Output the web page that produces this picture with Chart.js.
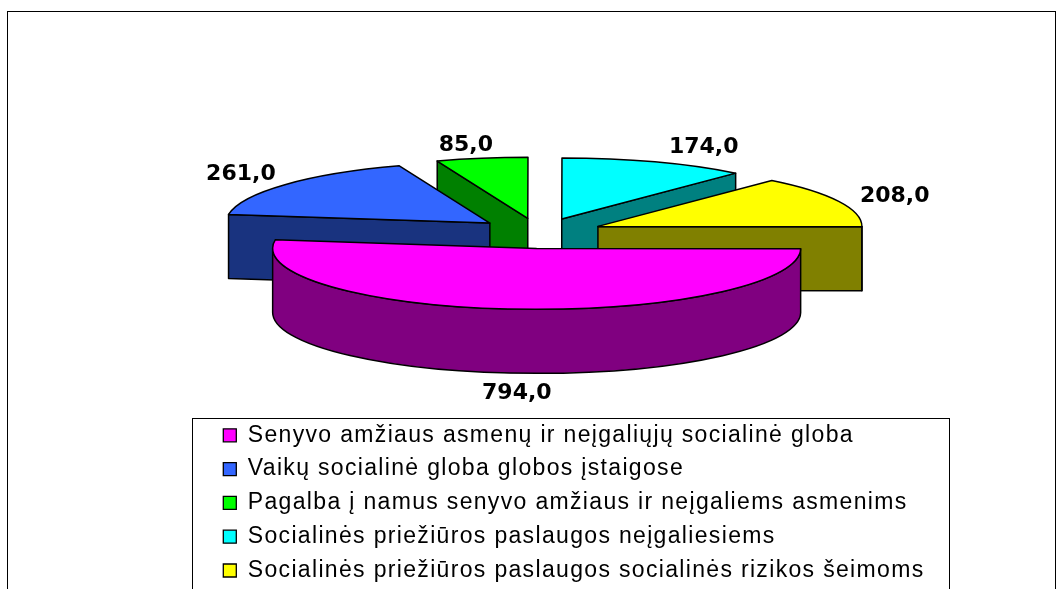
<!DOCTYPE html>
<html>
<head>
<meta charset="utf-8">
<style>html,body{margin:0;padding:0;background:#fff;overflow:hidden}canvas{display:block}</style>
<script src="https://cdn.jsdelivr.net/npm/chart.js@4"></script>
</head>
<body>
<canvas id="c" width="1062" height="589"></canvas>
<script>
const categories = [
  'Senyvo amžiaus asmenų ir neįgaliųjų socialinė globa',
  'Vaikų socialinė globa globos įstaigose',
  'Pagalba į namus senyvo amžiaus ir neįgaliems asmenims',
  'Socialinės priežiūros paslaugos neįgaliesiems',
  'Socialinės priežiūros paslaugos socialinės rizikos šeimoms'
];
const values = [794, 261, 85, 174, 208];
const topColors = ['#FF00FF', '#3366FF', '#00FF00', '#00FFFF', '#FFFF00'];
const wallColors = ['#800080', '#19337F', '#008000', '#008080', '#808000'];
const paintOrder = [2, 3, 1, 4, 0];
const labelShift = [[0, 20], [-44, -10], [-16, -13], [49, -15], [56, -5]];
const sliceNudge = [[2.5, 1], [1, 0], [0, 0.5], [0, 0.5], [0, 0]];

const CX = 539, CY = 232.5, RADIUS = 264, SQUASH = 0.231, EXPLODE = 64.6, DEPTH = 64;
const LEGEND = {left: 192, top: 418, right: 949};

function sy(y) { return CY + (y - CY) * SQUASH; }

const pie3d = {
  id: 'pie3d',
  beforeDraw(chart) {
    const ctx = chart.ctx;
    ctx.save();
    ctx.fillStyle = '#fff';
    ctx.fillRect(0, 0, chart.width, chart.height);
    ctx.strokeStyle = '#000';
    ctx.lineWidth = 1;
    ctx.strokeRect(7.5, 11.5, 1048, 700);
    ctx.strokeRect(LEGEND.left + .5, LEGEND.top + .5, LEGEND.right - LEGEND.left, 400);
    ctx.restore();
    ctx.letterSpacing = '1.33px';
  },
  afterLayout(chart) {
    const r = RADIUS;
    chart.chartArea = {left: CX - r, right: CX + r, top: CY - r, bottom: CY + r, width: 2 * r, height: 2 * r};
    const lg = chart.legend;
    lg.left = 212.5; lg.right = 1000; lg.top = 413; lg.bottom = 800;
    lg.width = lg.right - lg.left; lg.height = lg.bottom - lg.top;
  },
  afterDatasetsUpdate(chart) {
    chart.getDatasetMeta(0).data.forEach((el, i) => {
      const mid = (el.startAngle + el.endAngle) / 2;
      el.x = CX + Math.cos(mid) * EXPLODE + sliceNudge[i][0];
      el.y = CY + Math.sin(mid) * EXPLODE + sliceNudge[i][1] / SQUASH;
    });
  },
  beforeDatasetDraw(chart) {
    const ctx = chart.ctx;
    const els = chart.getDatasetMeta(0).data;
    paintOrder.forEach(i => {
      const el = els[i];
      const a0 = el.startAngle, a1 = el.endAngle, R = el.outerRadius;
      const vx = el.x, vy = sy(el.y), ry = R * SQUASH;
      const px = a => vx + R * Math.cos(a), py = a => vy + ry * Math.sin(a);
      ctx.save();
      ctx.fillStyle = wallColors[i];
      ctx.strokeStyle = '#000';
      ctx.lineWidth = 1.5;
      ctx.lineJoin = 'round';
      const side = a => {
        ctx.beginPath();
        ctx.moveTo(vx, vy); ctx.lineTo(px(a), py(a));
        ctx.lineTo(px(a), py(a) + DEPTH); ctx.lineTo(vx, vy + DEPTH);
        ctx.closePath(); ctx.fill(); ctx.stroke();
      };
      if (-Math.cos(a0) > 0.001) side(a0);
      if (Math.cos(a1) > 0.001) side(a1);
      const T = Math.PI * 2;
      for (let k = -1; k <= 1; k++) {
        const s = Math.max(a0, k * T), e = Math.min(a1, k * T + Math.PI);
        if (e > s) {
          ctx.beginPath();
          ctx.ellipse(vx, vy, R, ry, 0, s, e);
          ctx.ellipse(vx, vy + DEPTH, R, ry, 0, e, s, true);
          ctx.closePath(); ctx.fill(); ctx.stroke();
        }
      }
      ctx.save();
      ctx.translate(0, CY); ctx.scale(1, SQUASH); ctx.translate(0, -CY);
      el.draw(ctx, chart.chartArea);
      ctx.restore();
      ctx.beginPath();
      ctx.moveTo(vx, vy);
      ctx.ellipse(vx, vy, R, ry, 0, a0, a1);
      ctx.closePath(); ctx.stroke();
      ctx.restore();
    });
    return false;
  },
  afterDatasetsDraw(chart) {
    const ctx = chart.ctx;
    const els = chart.getDatasetMeta(0).data;
    ctx.save();
    ctx.letterSpacing = '0px';
    ctx.font = 'bold 22px "DejaVu Sans"';
    ctx.fillStyle = '#000';
    ctx.textAlign = 'center';
    ctx.textBaseline = 'middle';
    els.forEach((el, i) => {
      const mid = (el.startAngle + el.endAngle) / 2;
      const x = el.x + el.outerRadius * Math.cos(mid);
      let y = sy(el.y) + el.outerRadius * SQUASH * Math.sin(mid);
      if (Math.sin(mid) > 0) y += DEPTH;
      ctx.fillText(values[i].toFixed(1).replace('.', ','), x + labelShift[i][0], y + labelShift[i][1]);
    });
    ctx.restore();
  }
};

new Chart(document.getElementById('c'), {
  type: 'pie',
  data: {
    labels: categories,
    datasets: [{
      data: values,
      backgroundColor: topColors,
      borderWidth: 0,
      clip: false
    }]
  },
  plugins: [pie3d],
  options: {
    responsive: false,
    animation: false,
    rotation: 90.4,
    events: [],
    plugins: {
      tooltip: {enabled: false},
      legend: {
        display: true,
        position: 'left',
        align: 'start',
        labels: {
          font: {family: '"Liberation Sans"', size: 23},
          color: '#000',
          boxWidth: 13,
          boxHeight: 13,
          padding: 10.8,
          generateLabels(chart) {
            return Chart.overrides.pie.plugins.legend.labels.generateLabels(chart).map(l => ({...l, strokeStyle: '#000', lineWidth: 1.3}));
          }
        }
      }
    }
  }
});
</script>
</body>
</html>
